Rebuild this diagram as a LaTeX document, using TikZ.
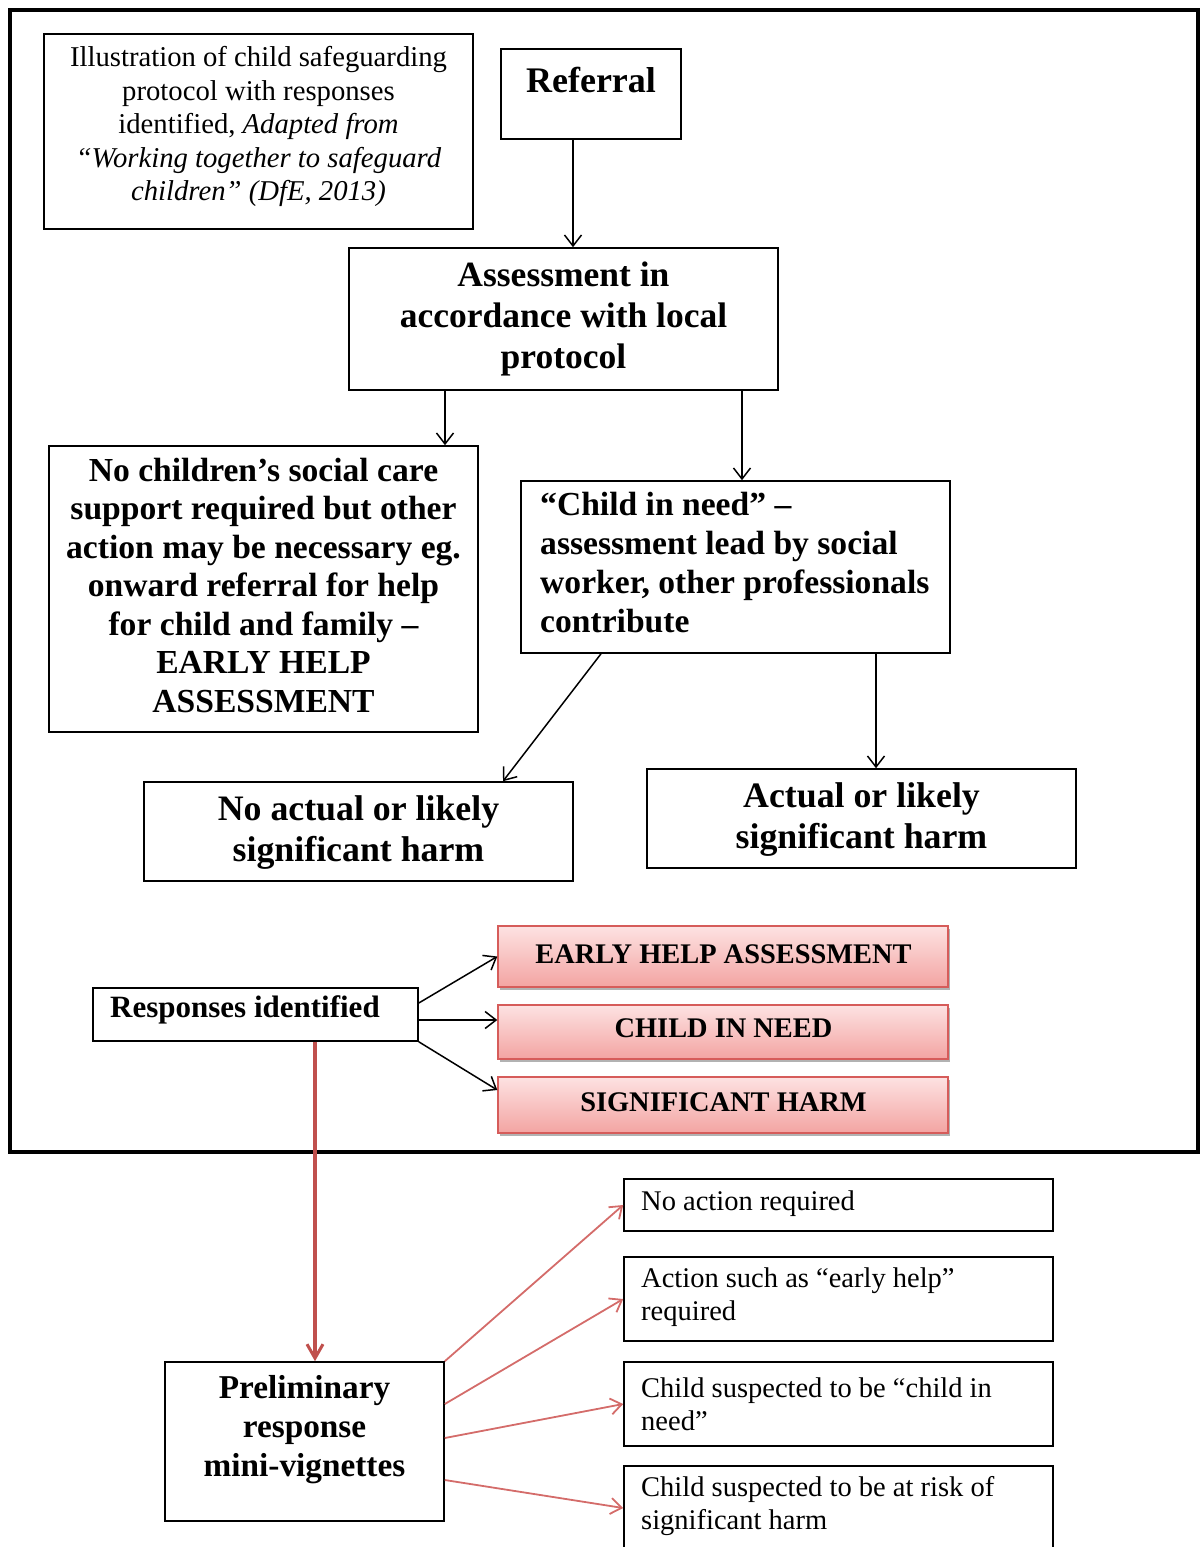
\documentclass[tikz,border=0pt]{standalone}
\usepackage{fontspec}
\setmainfont{Liberation Serif}
\usetikzlibrary{arrows.meta,shadows,calc}

\definecolor{pinkTop}{RGB}{253,226,226}
\definecolor{pinkBot}{RGB}{243,164,162}
\definecolor{pinkEdge}{RGB}{214,92,90}
\definecolor{arrowRed}{RGB}{192,80,77}
\definecolor{thinRed}{RGB}{212,108,106}

\newcommand\fsz[2]{\fontsize{#1}{#2}\selectfont}

\tikzset{
  box/.style 2 args={draw=black, line width=1.6pt, minimum width=#1, minimum height=#2, inner sep=0pt},
  redbox/.style 2 args={draw=pinkEdge, line width=1.4pt, minimum width=#1, minimum height=#2, inner sep=0pt,
    top color=pinkTop, bottom color=pinkBot,
    drop shadow={shadow xshift=1.5pt, shadow yshift=-3pt, opacity=0.3, fill=black}},
  txt/.style={inner sep=0pt, align=center},
  ltxt/.style={inner sep=0pt, align=left, anchor=west},
  arr/.style={draw=black, line width=1.5pt, -{Straight Barb[length=11pt,width=17pt,line width=1.5pt]}},
  redarr/.style={draw=arrowRed, line width=3.5pt, -{Straight Barb[length=14pt,width=16pt,line width=3pt]}},
  thinarr/.style={draw=thinRed, line width=1.8pt, -{Straight Barb[length=11pt,width=16pt,line width=1.8pt]}},
}

\begin{document}
\begin{tikzpicture}[x=1pt,y=-1pt]
\useasboundingbox (0,0) rectangle (1201,1547);
\clip (0,0) rectangle (1201,1547);

% outer frame around the protocol
\draw[line width=3.5pt] (10,10) rectangle (1198,1152);

% ---- boxes ----
\node[box={429}{195}] (titlebox) at (258.5,131.5) {};
\node[box={180}{90}]  (refbox)   at (591,94) {};
\node[box={429}{142}] (asm)      at (563.5,319) {};
\node[box={429}{286}] (nocsc)    at (263.5,589) {};
\node[box={429}{172}] (cin)      at (735.5,567) {};
\node[box={429}{99}]  (noharm)   at (358.5,831.5) {};
\node[box={429}{99}]  (harm)     at (861.5,818.5) {};
\node[box={325}{53}]  (resp)     at (255.5,1014.5) {};
\node[redbox={450}{61}] (red1)   at (723,956.5) {};
\node[redbox={450}{54}] (red2)   at (723,1032) {};
\node[redbox={450}{56}] (red3)   at (723,1105) {};
\node[box={279}{159}] (pre)      at (304.5,1441.5) {};
\node[box={429}{52}]  (d1)       at (838.5,1205) {};
\node[box={429}{84}]  (d2)       at (838.5,1299) {};
\node[box={429}{84}]  (d3)       at (838.5,1404) {};
\node[box={429}{84}]  (d4)       at (838.5,1508) {};

% ---- texts ----
\node[txt, font=\fsz{28.7}{33.5}] (titletext) at (258.5,126.5)
  {Illustration of child safeguarding\\ protocol with responses\\ identified, \textit{Adapted from}\\ \textit{“Working together to safeguard}\\ \textit{children” (DfE, 2013)}};
\node[txt, font=\fsz{36}{41}\bfseries] (reftext) at (591,80) {Referral};
\node[txt, font=\fsz{35.5}{41}\bfseries] (asmtext) at (563.5,319)
  {Assessment in\\ accordance with local\\ protocol};
\node[txt, font=\fsz{33.6}{38.5}\bfseries] (nocsctext) at (263.5,585)
  {No children’s social care\\ support required but other\\ action may be necessary eg.\\ onward referral for help\\ for child and family –\\ EARLY HELP\\ ASSESSMENT};
\node[ltxt, font=\fsz{33.6}{39}\bfseries] (cintext) at (540,563)
  {“Child in need” –\\ assessment lead by social\\ worker, other professionals\\ contribute};
\node[txt, font=\fsz{35.8}{41}\bfseries] (noharmtext) at (358.5,832.5)
  {No actual or likely\\ significant harm};
\node[txt, font=\fsz{35.8}{41}\bfseries] (harmtext) at (861.5,819.5)
  {Actual or likely\\ significant harm};
\node[ltxt, font=\fsz{31}{34}\bfseries] (resptext) at (110,1010) {Responses identified};
\node[txt, font=\fsz{28.4}{32}\bfseries] (red1text) at (723.5,954) {EARLY HELP ASSESSMENT};
\node[txt, font=\fsz{28.4}{32}\bfseries] (red2text) at (723.5,1028) {CHILD IN NEED};
\node[txt, font=\fsz{28.4}{32}\bfseries] (red3text) at (723.5,1102) {SIGNIFICANT HARM};
\node[txt, font=\fsz{33.3}{39}\bfseries] (pretext) at (304.5,1430)
  {Preliminary\\ response\\ mini-vignettes};
\node[ltxt, font=\fsz{28.5}{33}] (d1text) at (641,1204) {No action required};
\node[ltxt, font=\fsz{28.5}{33}] (d2text) at (641,1297.5) {Action such as “early help”\\ required};
\node[ltxt, font=\fsz{28.5}{33}] (d3text) at (641,1404) {Child suspected to be “child in\\ need”};
\node[ltxt, font=\fsz{28.5}{33}] (d4text) at (641,1506.5) {Child suspected to be at risk of\\ significant harm};

% ---- connectors: protocol ----
\coordinate (c1) at ([xshift=-18pt]refbox.south);
\draw[arr] (c1) -- (c1 |- asm.north);
\coordinate (c2) at ([xshift=-118.5pt]asm.south);
\draw[arr] (c2) -- (c2 |- nocsc.north);
\coordinate (c3) at ([xshift=178.5pt]asm.south);
\draw[arr] (c3) -- (c3 |- cin.north);
\draw[arr] ([xshift=-134.5pt]cin.south) -- ([xshift=144.5pt]noharm.north);
\coordinate (c4) at ([xshift=140.5pt]cin.south);
\draw[arr] (c4) -- (c4 |- harm.north);

% ---- connectors: responses ----
\draw[arr] ([yshift=11.5pt]resp.east) -- (red1.west);
\coordinate (c5) at ([yshift=-5.5pt]resp.east);
\draw[arr] (c5) -- (c5 -| red2.west);
\draw[arr] (resp.south east) -- ([yshift=15pt]red3.west);

% ---- connectors: mini-vignettes ----
\coordinate (redx) at (315,0);
\draw[redarr] (resp.south -| redx) -- (pre.north -| redx);
\draw[thinarr] (pre.north east) -- (d1.west);
\draw[thinarr] ([yshift=37.5pt]pre.east) -- (d2.west);
\draw[thinarr] ([yshift=3.5pt]pre.east) -- (d3.west);
\draw[thinarr] ([yshift=-38.5pt]pre.east) -- (d4.west);
\end{tikzpicture}
\end{document}
